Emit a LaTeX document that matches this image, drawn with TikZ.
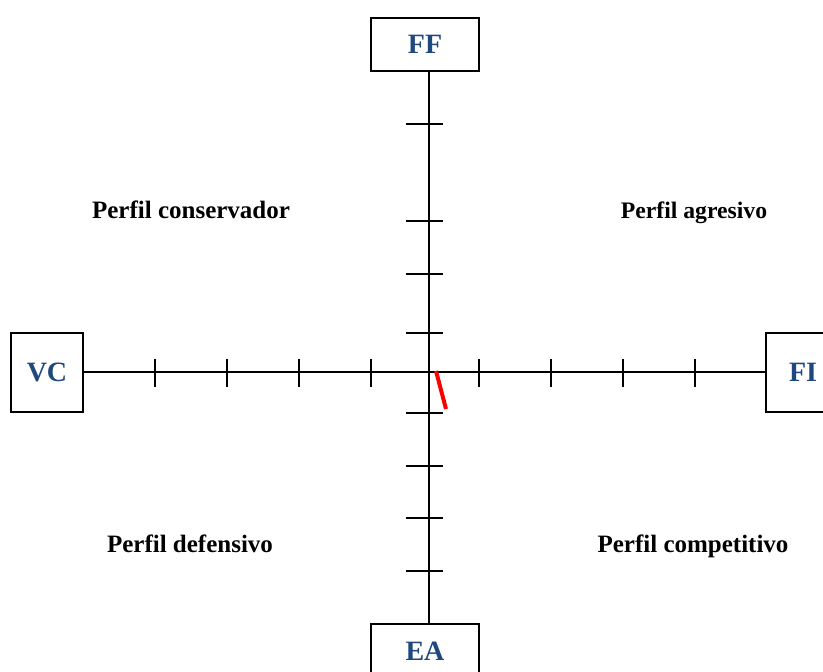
\documentclass[tikz,border=0pt]{standalone}
\usepackage{fontspec}
\setmainfont{Liberation Serif}
\usetikzlibrary{positioning}
\definecolor{azul}{HTML}{1F497D}

\begin{document}
\begin{tikzpicture}[x=0.75pt,y=-0.75pt,
    caja/.style={draw,line width=1.5pt,fill=white,text=azul,inner sep=0pt,
      font=\fontsize{21}{24}\selectfont\bfseries},
    perfil/.style={anchor=base,inner sep=0pt,font=\fontsize{18.75}{22}\selectfont\bfseries},
    eje/.style={line width=1.5pt},
    marca/.style={line width=1.5pt}]
\useasboundingbox (0,0) rectangle (823,671);
\clip (0,0) rectangle (823,671);
\coordinate (o) at (429,372);
\node[caja,minimum width=81pt,minimum height=39.75pt] (ff) at (425,44.5) {FF};
\node[caja,minimum width=81pt,minimum height=40.5pt] (ea) at (425,651) {EA};
\node[caja,minimum width=54pt,minimum height=59.25pt] (vc) at (47,372.5) {VC};
\node[caja,minimum width=55.5pt,minimum height=59.25pt] (fi) at (803,372.5) {FI};
\draw[eje] (ff.south -| o) -- (ea.north -| o);
\draw[eje] (vc.east |- o) -- (fi.west |- o);
\foreach \y in {124,221,274,333,413,466,518,571}
  \draw[marca] (406,\y) -- (443,\y);
\foreach \x in {155,227,299,371,479,551,623,695}
  \draw[marca] (\x,359) -- (\x,387);
\draw[red,line width=3pt] (436,371) -- (446,409);
\node[perfil] (conservador) at (191,218) {Perfil conservador};
\node[perfil,font=\fontsize{17.75}{21}\selectfont\bfseries] (agresivo) at (694,218) {Perfil agresivo};
\node[perfil] (defensivo) at (190,552) {Perfil defensivo};
\node[perfil] (competitivo) at (693,552) {Perfil competitivo};
\end{tikzpicture}
\end{document}
